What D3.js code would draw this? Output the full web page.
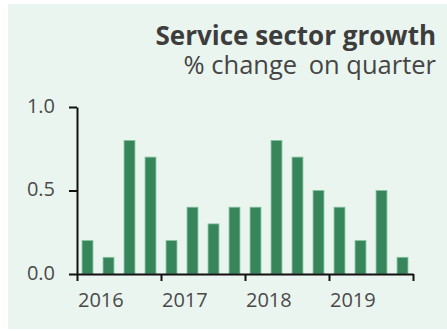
<!DOCTYPE html>
<html>
<head>
<meta charset="utf-8">
<script src="https://cdn.jsdelivr.net/npm/d3@7"></script>
<style>
  html, body { margin: 0; padding: 0; background: #ffffff; }
  svg { display: block; }
  text { font-family: "Open Sans", "Noto Sans", sans-serif; }
</style>
</head>
<body>
<svg id="chart" width="447" height="331"></svg>
<script>
// Quarterly service sector growth, % change on previous quarter
const quarters = [
  "2016Q1", "2016Q2", "2016Q3", "2016Q4",
  "2017Q1", "2017Q2", "2017Q3", "2017Q4",
  "2018Q1", "2018Q2", "2018Q3", "2018Q4",
  "2019Q1", "2019Q2", "2019Q3", "2019Q4"
];
const growth = [0.2, 0.1, 0.8, 0.7, 0.2, 0.4, 0.3, 0.4, 0.4, 0.8, 0.7, 0.5, 0.4, 0.2, 0.5, 0.1];
const yTicks = [0.0, 0.5, 1.0];
const yearTicks = [2016, 2017, 2018, 2019, 2020];
const yearLabels = ["2016", "2017", "2018", "2019", ""];

const svg = d3.select("#chart");

// panel background
svg.append("rect")
  .attr("x", 8).attr("y", 4)
  .attr("width", 439).attr("height", 325)
  .attr("fill", "#ebf5f0");

const plotLeft = 77, plotRight = 413, plotTop = 107, plotBottom = 274;

const x = d3.scaleBand()
  .domain(quarters)
  .range([plotLeft, plotRight])
  .paddingInner(0.48)
  .paddingOuter(0.24);

const xYear = d3.scaleLinear()
  .domain([2016, 2020])
  .range([plotLeft, plotRight]);

const y = d3.scaleLinear()
  .domain([0, 1])
  .range([plotBottom, plotTop]);

// bars
svg.append("g")
  .selectAll("rect")
  .data(growth)
  .join("rect")
  .attr("x", (d, i) => x(quarters[i]))
  .attr("y", d => y(d))
  .attr("width", x.bandwidth())
  .attr("height", d => y(0) - y(d))
  .attr("fill", "#37865b")
  .attr("stroke", "#86c3a0")
  .attr("stroke-width", 0.8);

// y axis
const yAxis = svg.append("g")
  .attr("transform", `translate(${plotLeft},0)`)
  .call(d3.axisLeft(y)
    .tickValues(yTicks)
    .tickFormat(d3.format(".1f"))
    .tickSize(8)
    .tickSizeOuter(0)
    .tickPadding(14));

// x axis with year ticks
const xAxis = svg.append("g")
  .attr("transform", `translate(0,${plotBottom})`)
  .call(d3.axisBottom(xYear)
    .tickValues(yearTicks)
    .tickFormat((d, i) => yearLabels[i])
    .tickSize(7)
    .tickSizeOuter(0)
    .tickPadding(12));

xAxis.selectAll(".tick text")
  .attr("text-anchor", "start")
  .attr("dx", "0.5");

[yAxis, xAxis].forEach(g => {
  g.select(".domain").attr("stroke", "#111").attr("stroke-width", 2);
  g.selectAll(".tick line").attr("stroke", "#111").attr("stroke-width", 2);
  g.selectAll(".tick text")
    .attr("fill", "#4a4a4a")
    .style("font-size", "20px")
    .style("font-family", "'Open Sans', sans-serif");
});
yAxis.selectAll(".tick text").attr("dy", "0.25em");

// title block
svg.append("text")
  .attr("x", 436).attr("y", 45)
  .attr("text-anchor", "end")
  .attr("fill", "#3d3d3d")
  .style("font-size", "26px")
  .style("font-weight", "700")
  .text("Service sector growth");

const sub = svg.append("text")
  .attr("x", 436).attr("y", 74)
  .attr("text-anchor", "end")
  .attr("fill", "#454545")
  .style("font-size", "25.5px");
sub.append("tspan").text("% change ");
sub.append("tspan").attr("dx", 5).text("on quarter");
</script>
</body>
</html>
